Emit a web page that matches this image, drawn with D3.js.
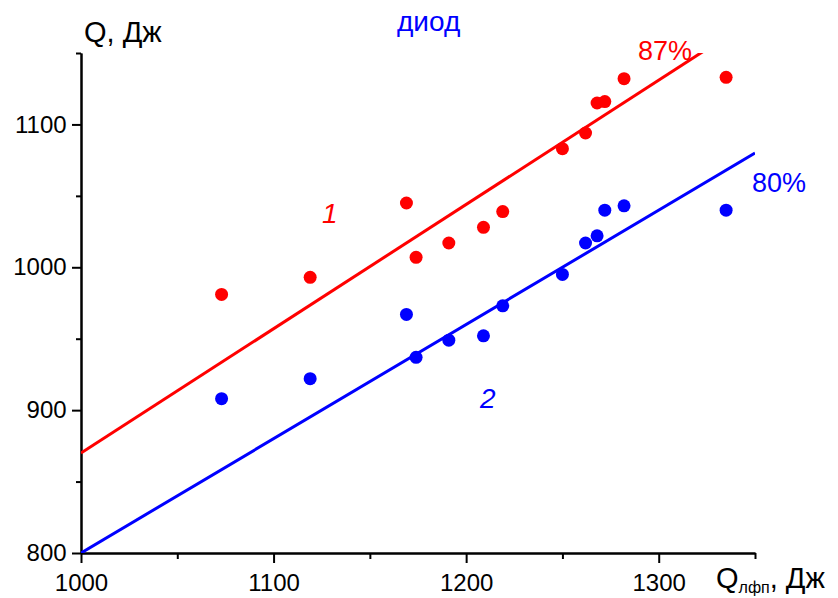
<!DOCTYPE html>
<html>
<head>
<meta charset="utf-8">
<script src="https://cdn.jsdelivr.net/npm/d3@7"></script>
<style>
  body { margin: 0; background: #fff; }
  text { font-family: "Liberation Sans", Arial, sans-serif; }
</style>
</head>
<body>
<div id="chart"></div>
<script>
// data
const qLfp = [1073, 1119, 1169, 1174, 1191, 1209, 1219, 1250, 1262, 1268, 1272, 1282, 1335];
const qRed = [981, 993, 1045, 1007, 1017, 1028, 1039, 1083, 1094, 1115, 1116, 1132, 1133];
const qBlue = [908, 922, 967, 937, 949, 952, 973, 995, 1017, 1022, 1040, 1043, 1040];
const slopes = [0.87, 0.80];
const slopeLabels = ["87%", "80%"];
const curveLabels = ["1", "2"];
const xTicks = [1000, 1100, 1200, 1300];
const yTicks = [800, 900, 1000, 1100];

const width = 838, height = 598;
const margin = {top: 53, right: 83, bottom: 45, left: 81};

const svg = d3.select("#chart")
  .append("svg")
  .attr("width", width)
  .attr("height", height);

const x = d3.scaleLinear().domain([1000, 1350]).range([margin.left, width - margin.right]);
const y = d3.scaleLinear().domain([800, 1150]).range([height - margin.bottom, margin.top]);

svg.append("clipPath").attr("id", "plot")
  .append("rect")
  .attr("x", margin.left).attr("y", margin.top)
  .attr("width", width - margin.left - margin.right)
  .attr("height", height - margin.top - margin.bottom);

// axes: major + minor ticks
const xAxis = svg.append("g")
  .attr("transform", `translate(0,${height - margin.bottom})`)
  .call(d3.axisBottom(x).tickValues(xTicks).tickFormat(d3.format("d")).tickSize(10).tickSizeOuter(0));
svg.append("g")
  .attr("transform", `translate(0,${height - margin.bottom})`)
  .call(d3.axisBottom(x).tickValues([1050, 1150, 1250, 1350]).tickFormat("").tickSize(6).tickSizeOuter(0));

const yAxis = svg.append("g")
  .attr("transform", `translate(${margin.left},0)`)
  .call(d3.axisLeft(y).tickValues(yTicks).tickFormat(d3.format("d")).tickSize(9).tickSizeOuter(0));
svg.append("g")
  .attr("transform", `translate(${margin.left},0)`)
  .call(d3.axisLeft(y).tickValues([850, 950, 1050, 1150]).tickFormat("").tickSize(5).tickSizeOuter(0));

svg.selectAll(".domain, .tick line").attr("stroke", "#000").attr("stroke-width", 2);
xAxis.selectAll("text").attr("font-size", 24).attr("fill", "#000").attr("dy", "1.05em");
yAxis.selectAll("text").attr("font-size", 24).attr("fill", "#000").attr("dx", "-0.1em");

// fit lines Q = k * Qlfp
const colors = ["#ff0000", "#0000ff"];
const line = d3.line().x(d => x(d[0])).y(d => y(d[1]));
slopes.forEach((k, i) => {
  svg.append("path")
    .attr("clip-path", "url(#plot)")
    .attr("d", line([[1000, 1000 * k], [1350, 1350 * k]]))
    .attr("fill", "none")
    .attr("stroke", colors[i])
    .attr("stroke-width", 3);
});

// points
[qRed, qBlue].forEach((vals, i) => {
  svg.append("g").selectAll("circle")
    .data(vals)
    .enter()
    .append("circle")
    .attr("cx", (d, j) => x(qLfp[j]))
    .attr("cy", d => y(d))
    .attr("r", 6.5)
    .attr("fill", colors[i]);
});

// labels
svg.append("text").attr("x", 84).attr("y", 42).attr("font-size", 29)
  .text("Q, Дж");
svg.append("text").attr("x", 397).attr("y", 31).attr("font-size", 28).attr("fill", colors[1])
  .text("диод");

const xl = svg.append("text").attr("x", 716).attr("y", 588).attr("font-size", 29);
xl.append("tspan").text("Q");
xl.append("tspan").attr("font-size", 16).attr("dy", 5).text("лфп");
xl.append("tspan").attr("dy", -5).text(", Дж");

svg.append("text").attr("x", 638).attr("y", 60).attr("font-size", 27).attr("fill", colors[0]).text(slopeLabels[0]);
svg.append("text").attr("x", 752).attr("y", 192).attr("font-size", 27).attr("fill", colors[1]).text(slopeLabels[1]);
svg.append("text").attr("x", 322).attr("y", 223).attr("font-size", 28).attr("font-style", "italic").attr("fill", colors[0]).text(curveLabels[0]);
svg.append("text").attr("x", 480).attr("y", 408).attr("font-size", 28).attr("font-style", "italic").attr("fill", colors[1]).text(curveLabels[1]);
</script>
</body>
</html>
